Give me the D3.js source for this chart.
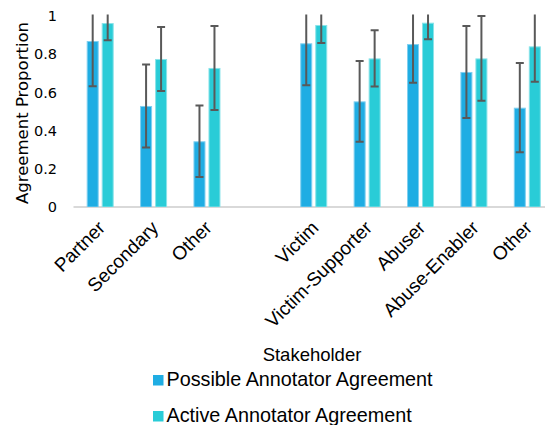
<!DOCTYPE html>
<html>
<head>
<meta charset="utf-8">
<script src="https://cdn.jsdelivr.net/npm/d3@7"></script>
<style>
  html, body { margin: 0; padding: 0; background: #fff; }
  svg { display: block; }
</style>
</head>
<body>
<svg id="chart" width="545" height="425"></svg>
<script>
// Stakeholder categories; the empty entry leaves a gap between the two groups
const categories = ["Partner", "Secondary", "Other", "", "Victim", "Victim-Supporter", "Abuser", "Abuse-Enabler", "Other"];
const seriesNames = ["Possible Annotator Agreement", "Active Annotator Agreement"];

// Mean agreement proportion per category
const possibleValues = [0.869, 0.529, 0.344, null, 0.857, 0.553, 0.853, 0.707, 0.520];
const activeValues   = [0.963, 0.775, 0.728, null, 0.953, 0.778, 0.965, 0.778, 0.841];

// Error bar half-widths
const possibleErrors = [0.237, 0.217, 0.187, null, 0.220, 0.212, 0.202, 0.241, 0.234];
const activeErrors   = [0.090, 0.168, 0.220, null, 0.094, 0.147, 0.087, 0.222, 0.185];

const yTicks = [0, 0.2, 0.4, 0.6, 0.8, 1];
const yTickLabels = ["0", "0.2", "0.4", "0.6", "0.8", "1"];

const colors = ["#1fade3", "#29ccd7"];
const edgeColors = ["#7fcff0", "#8ae3e9"];

const svg = d3.select("#chart");
const labelFont = "'Liberation Sans', Arial, sans-serif";
const tickFont = "'DejaVu Sans', sans-serif";

const x0 = d3.scaleBand()
  .domain(d3.range(categories.length))
  .range([73.5, 554])
  .paddingInner(0).paddingOuter(0);

const x1 = d3.scaleBand()
  .domain([0, 1])
  .range([0, 27])
  .paddingInner(0.2).paddingOuter(0);

const y = d3.scaleLinear().domain([0, 1]).range([207, 16]);

const series = [
  { values: possibleValues, errors: possibleErrors },
  { values: activeValues, errors: activeErrors }
];

// clip so whiskers stop at the top of the value axis
svg.append("defs").append("clipPath").attr("id", "plotClip")
  .append("rect")
  .attr("x", 0).attr("y", y(1) - 1.5)
  .attr("width", 545).attr("height", y(0) - y(1) + 1.5);

// baseline
svg.append("line")
  .attr("x1", x0.range()[0]).attr("x2", x0.range()[1])
  .attr("y1", y(0)).attr("y2", y(0))
  .attr("stroke", "#d9d9d9").attr("stroke-width", 2);

const plot = svg.append("g").attr("clip-path", "url(#plotClip)");

series.forEach((s, si) => {
  const items = categories.map((c, i) => ({ i, v: s.values[i], e: s.errors[i] }))
    .filter(d => d.v != null);
  const groupOffset = i => x0(i) + x0.bandwidth() / 2 - 13.5 + x1(si);

  plot.append("g").selectAll("rect")
    .data(items).join("rect")
    .attr("x", d => groupOffset(d.i) + 0.5)
    .attr("y", d => y(d.v) + 0.5)
    .attr("width", x1.bandwidth() - 1)
    .attr("height", d => y(0) - y(d.v) - 0.5)
    .attr("fill", colors[si])
    .attr("stroke", edgeColors[si])
    .attr("stroke-width", 1);

  const eb = plot.append("g").attr("stroke", "#595959").attr("stroke-width", 2);
  items.forEach(d => {
    const cx = groupOffset(d.i) + x1.bandwidth() / 2;
    const lo = y(d.v - d.e), hi = y(d.v + d.e);
    eb.append("line").attr("x1", cx).attr("x2", cx).attr("y1", lo).attr("y2", hi);
    eb.append("line").attr("x1", cx - 4).attr("x2", cx + 4).attr("y1", lo).attr("y2", lo);
    eb.append("line").attr("x1", cx - 4).attr("x2", cx + 4).attr("y1", hi).attr("y2", hi);
  });
});

// y tick labels
svg.append("g").selectAll("text")
  .data(yTicks).join("text")
  .attr("x", 57)
  .attr("y", d => y(d))
  .attr("dy", "0.36em")
  .attr("text-anchor", "end")
  .attr("font-family", tickFont)
  .attr("font-size", 14.5)
  .attr("fill", "#000")
  .text((d, i) => yTickLabels[i]);

// y axis title
svg.append("text")
  .attr("transform", "translate(28,113) rotate(-90)")
  .attr("text-anchor", "middle")
  .attr("font-family", tickFont)
  .attr("font-size", 16.5)
  .attr("fill", "#000")
  .text("Agreement Proportion");

// category labels, rotated
svg.append("g").selectAll("text")
  .data(categories.map((c, i) => ({ c, i })).filter(d => d.c !== "")).join("text")
  .attr("transform", d => `translate(${x0(d.i) + x0.bandwidth() / 2 + 6},${y(0) + 22}) rotate(-45)`)
  .attr("text-anchor", "end")
  .attr("font-family", labelFont)
  .attr("font-size", 19)
  .attr("fill", "#000")
  .text(d => d.c);

// x axis title
svg.append("text")
  .attr("x", 312).attr("y", 361)
  .attr("text-anchor", "middle")
  .attr("font-family", labelFont)
  .attr("font-size", 18.5)
  .attr("fill", "#000")
  .text("Stakeholder");

// legend
const legend = svg.append("g");
seriesNames.forEach((name, i) => {
  const baseY = 386 + i * 36;
  legend.append("rect")
    .attr("x", 153).attr("y", baseY - 11)
    .attr("width", 10.5).attr("height", 10.5)
    .attr("fill", colors[i]);
  legend.append("text")
    .attr("x", 166.5).attr("y", baseY)
    .attr("font-family", labelFont)
    .attr("font-size", 19.8)
    .attr("fill", "#000")
    .text(name);
});
</script>
</body>
</html>
